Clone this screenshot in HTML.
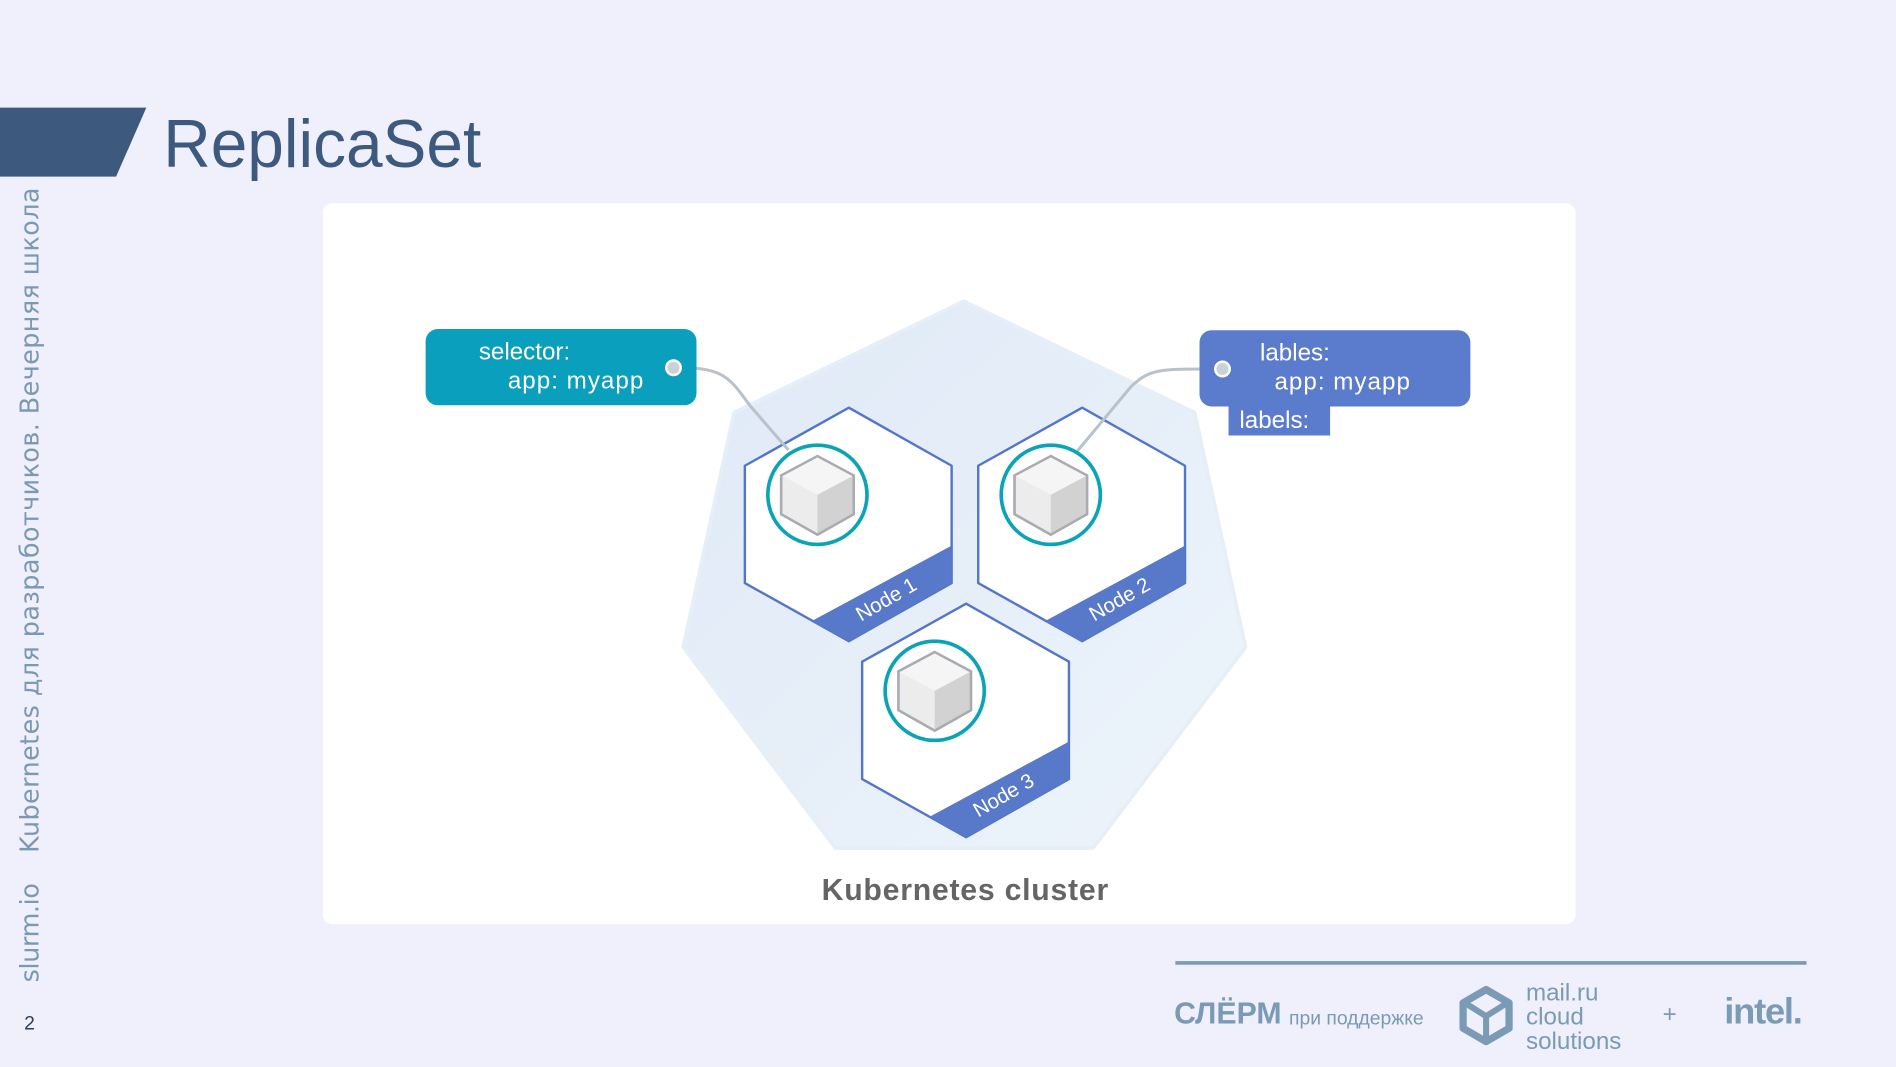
<!DOCTYPE html>
<html><head><meta charset="utf-8"><style>
html,body{margin:0;padding:0;background:#eff0fc;}
svg{display:block}
</style></head><body>
<svg width="1896" height="1067" viewBox="0 0 1568 882" preserveAspectRatio="none" xmlns="http://www.w3.org/2000/svg" font-family="Liberation Sans, DejaVu Sans, sans-serif">
<defs>
<linearGradient id="g" x1="0" y1="0" x2="1" y2="1"><stop offset="0" stop-color="#dfe9f6"/><stop offset="1" stop-color="#edf4fb"/></linearGradient>
<g id="cube">
<polygon points="0,-32 30,-16 30,16 0,33 -30,16 -30,-16" fill="#ececec" stroke="#a9abb0" stroke-width="2"/>
<polygon points="0,0 30,-16 30,16 0,33" fill="#d2d2d2"/>
<polygon points="0,0 -30,-16 0,-32 30,-16" fill="#f5f5f5"/>
<polygon points="0,-32 30,-16 30,16 0,33 -30,16 -30,-16" fill="none" stroke="#a9abb0" stroke-width="2"/>
</g>
</defs>
<rect width="1568" height="882" fill="#eff0fc"/>
<polygon points="0,89 121,89 96,146 0,146" fill="#3d5a7e"/>
<text x="135" y="138" font-size="56" fill="#3d5a7e" textLength="263" lengthAdjust="spacingAndGlyphs">ReplicaSet</text>
<text transform="translate(32,812) rotate(-90)" font-size="21" fill="#7b98b4" font-family="DejaVu Sans, sans-serif" textLength="82">slurm.io</text>
<text transform="translate(32,705) rotate(-90)" font-size="21" fill="#7b98b4" font-family="DejaVu Sans, sans-serif" textLength="550">Kubernetes для разработчиков. Вечерняя школа</text>
<text x="20" y="851" font-size="16" fill="#2f3d55">2</text>
<rect x="267" y="168" width="1036" height="596" rx="8" fill="#fff"/>
<polygon points="797,249 988,341 1030,535 904,701 691,701 565,535 607,341" fill="url(#g)" stroke="#e6eef8" stroke-width="3" stroke-linejoin="round"/>
<g>
<polygon points="702,337 787,385 787,482 702,530 616,482 616,385" fill="#fff" stroke="#5476c9" stroke-width="2" stroke-linejoin="round"/>
<polygon points="787,451 787,482 702,530 672,513" fill="#5878c9"/>
<text transform="translate(712,514) rotate(-30)" font-size="17" fill="#fff">Node 1</text>
</g>
<g transform="translate(193,0)">
<polygon points="702,337 787,385 787,482 702,530 616,482 616,385" fill="#fff" stroke="#5476c9" stroke-width="2" stroke-linejoin="round"/>
<polygon points="787,451 787,482 702,530 672,513" fill="#5878c9"/>
<text transform="translate(712,514) rotate(-30)" font-size="17" fill="#fff">Node 2</text>
</g>
<g transform="translate(97,162)">
<polygon points="702,337 787,385 787,482 702,530 616,482 616,385" fill="#fff" stroke="#5476c9" stroke-width="2" stroke-linejoin="round"/>
<polygon points="787,451 787,482 702,530 672,513" fill="#5878c9"/>
<text transform="translate(712,514) rotate(-30)" font-size="17" fill="#fff">Node 3</text>
</g>
<path d="M565,304 C600,304 605,315 620,335 L652,372" fill="none" stroke="#b9c2ca" stroke-width="2.5"/>
<path d="M1000,305 C960,305 950,305 935,320 L890,374" fill="none" stroke="#b9c2ca" stroke-width="2.5"/>
<circle cx="676" cy="409" r="41" fill="#fff" stroke="#0ba3b6" stroke-width="3"/>
<use href="#cube" x="676" y="409"/>
<circle cx="869" cy="409" r="41" fill="#fff" stroke="#0ba3b6" stroke-width="3"/>
<use href="#cube" x="869" y="409"/>
<circle cx="773" cy="571" r="41" fill="#fff" stroke="#0ba3b6" stroke-width="3"/>
<use href="#cube" x="773" y="571"/>
<rect x="352" y="272" width="224" height="63" rx="10" fill="#0a9fbc"/>
<text x="396" y="297" font-size="20" fill="#fff">selector:</text>
<text x="420" y="321" font-size="20" fill="#fff" textLength="112">app: myapp</text>
<circle cx="557" cy="304" r="6" fill="#c8d2d8" stroke="#fff" stroke-width="2"/>
<rect x="992" y="273" width="224" height="63" rx="10" fill="#5b7ccc"/>
<rect x="1016" y="330" width="84" height="30" fill="#5b7ccc"/>
<text x="1042" y="298" font-size="20" fill="#fff">lables:</text>
<text x="1054" y="322" font-size="20" fill="#fff" textLength="112">app: myapp</text>
<text x="1025" y="354" font-size="20" fill="#fff">labels:</text>
<circle cx="1011" cy="305" r="6" fill="#c8d2d8" stroke="#fff" stroke-width="2"/>
<text x="798" y="744" font-size="25" fill="#555" text-anchor="middle" font-weight="bold" opacity="0.9" textLength="237">Kubernetes cluster</text>
<line x1="972" y1="796" x2="1494" y2="796" stroke="#7a9ab5" stroke-width="3"/>
<text x="971" y="846" font-size="25" font-weight="bold" fill="#7a9ab5">СЛЁРМ</text>
<text x="1066" y="847" font-size="16" fill="#7a9ab5">при поддержке</text>
<polygon points="1229,818 1248,829 1248,850 1229,861 1210,850 1210,829" fill="none" stroke="#7a9ab5" stroke-width="6" stroke-linejoin="round"/>
<path d="M1213,830 L1229,840 L1245,830 M1229,840 L1229,858" stroke="#7a9ab5" stroke-width="5" fill="none"/>
<text x="1262" y="827" font-size="20" fill="#7a9ab5">mail.ru</text>
<text x="1262" y="847" font-size="20" fill="#7a9ab5">cloud</text>
<text x="1262" y="867" font-size="20" fill="#7a9ab5">solutions</text>
<text x="1375" y="845" font-size="20" fill="#7a9ab5">+</text>
<text x="1426" y="846" font-size="30" font-weight="bold" fill="#7a9ab5" letter-spacing="-1">intel.</text>
</svg>
</body></html>
